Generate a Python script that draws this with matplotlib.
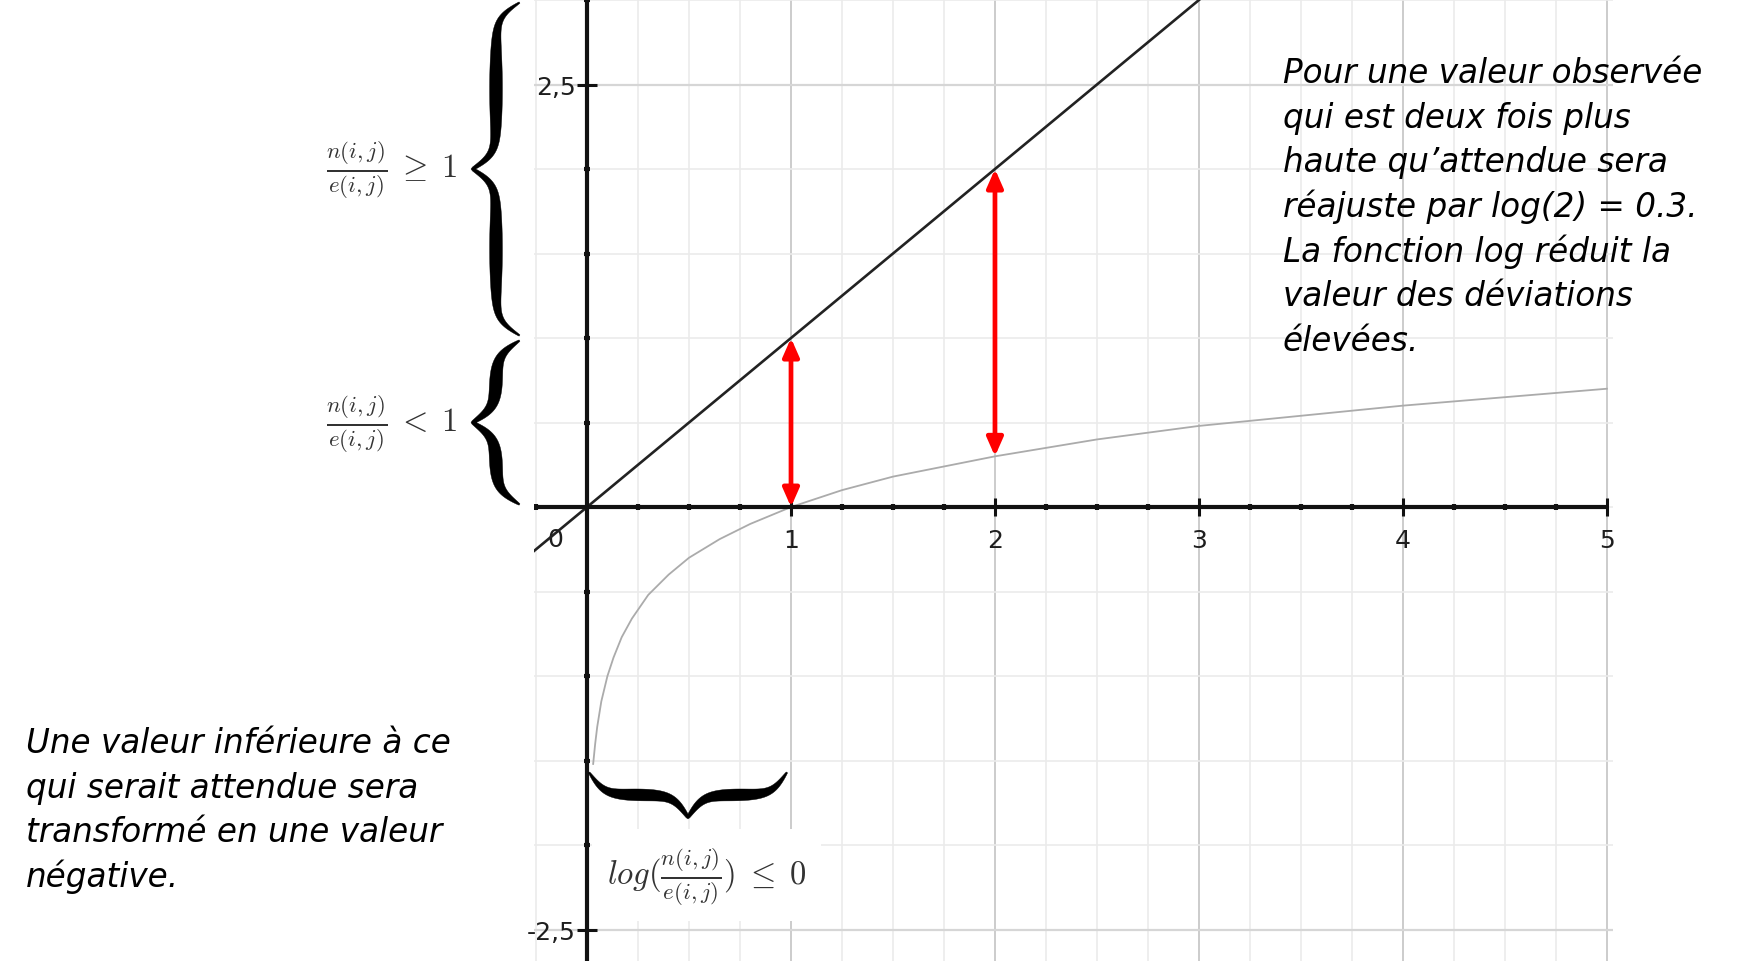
import numpy as np
import matplotlib.pyplot as plt
from matplotlib.patches import Polygon

plt.rcParams['mathtext.fontset'] = 'cm'

# ---------------- data ----------------
# identity line y = x
line_x = [-0.26, 3.01]
line_y = [-0.26, 3.01]

# grey log curve (visible part only)
log_x = [0.03, 0.04, 0.05, 0.07, 0.1, 0.13, 0.17, 0.22, 0.3,
         0.4, 0.5, 0.65, 0.8, 1.0, 1.25, 1.5, 2.0, 2.5, 3.0, 3.5, 4.0, 4.5, 5.0]
log_y = [-1.52, -1.4, -1.3, -1.15, -1.0, -0.89, -0.77, -0.66, -0.52,
         -0.4, -0.3, -0.19, -0.1, 0.0, 0.1, 0.18, 0.3, 0.4, 0.48, 0.54, 0.6, 0.65, 0.7]

# red double arrows: position, lower end, upper end
arrow_x = [1, 2]
arrow_lo = [0.0, 0.3]
arrow_hi = [1.0, 2.0]

x_tick_values = [1, 2, 3, 4, 5]
x_tick_labels = ['1', '2', '3', '4', '5']
y_tick_values = [2.5, -2.5]
y_tick_labels = ['2,5', '-2,5']

brace_ranges = [(1, 3), (0, 1)]
brace_labels = [r'$\frac{n(i,j)}{e(i,j)}\;\geq\;1$', r'$\frac{n(i,j)}{e(i,j)}\;<\;1$']
bottom_range = (0, 1)
bottom_label = r'$log(\frac{n(i,j)}{e(i,j)})\;\leq\;0$'

right_text = ['Pour une valeur observée',
              'qui est deux fois plus',
              'haute qu’attendue sera',
              'réajuste par log(2) = 0.3.',
              'La fonction log réduit la',
              'valeur des déviations',
              'élevées.']
left_text = ['Une valeur inférieure à ce',
             'qui serait attendue sera',
             'transformé en une valeur',
             'négative.']

# ---------------- figure ----------------
W, H = 1739, 962
fig = plt.figure(figsize=(W / 100, H / 100), dpi=100)
xmin, xmax = -0.26, 5.03
ymin, ymax = -2.686, 3.006
ax = fig.add_axes([534 / W, 0, 1079 / W, 1])
ax.set_xlim(xmin, xmax)
ax.set_ylim(ymin, ymax)
ax.axis('off')

# grid
for gx in np.arange(-0.25, 5.01, 0.25):
    major = abs(gx - round(gx)) < 1e-6
    ax.axvline(gx, color='#c4c4c4' if major else '#ebebeb', lw=1.2, zorder=0)
for gy in np.arange(-2.5, 3.01, 0.5):
    major = abs(abs(gy) - 2.5) < 1e-6
    ax.axhline(gy, color='#d6d6d6' if major else '#ebebeb', lw=1.6 if major else 1.2, zorder=0)

# axes
ax.plot([xmin, 5], [0, 0], color='#111111', lw=3, solid_capstyle='butt', zorder=4)
ax.axvline(0, color='#111111', lw=3, zorder=4)

small_x = [v for v in np.arange(-0.25, 5.01, 0.25) if abs(v - round(v)) > 1e-6]
ax.plot(small_x, np.zeros(len(small_x)), ls='none', marker='|', ms=5, mew=3,
        color='#111111', zorder=4)
ax.plot(x_tick_values, np.zeros(len(x_tick_values)), ls='none', marker='|', ms=13,
        mew=2.2, color='#111111', zorder=4)
small_y = [v for v in np.arange(-2.5, 3.01, 0.5) if 1e-6 < abs(v) and abs(abs(v) - 2.5) > 1e-6]
ax.plot(np.zeros(len(small_y)), small_y, ls='none', marker='_', ms=5, mew=3,
        color='#111111', zorder=4)
ax.plot(np.zeros(len(y_tick_values)), y_tick_values, ls='none', marker='_', ms=14,
        mew=2.2, color='#111111', zorder=4)

tick_font = dict(family='DejaVu Sans', fontsize=18, color='#1e1e1e')
for v, lab in zip(x_tick_values, x_tick_labels):
    ax.text(v, -0.195, lab, ha='center', va='center', **tick_font)
ax.text(-0.157, -0.19, '0', ha='center', va='center', **tick_font)
for v, lab in zip(y_tick_values, y_tick_labels):
    ax.text(-0.055, v - 0.015, lab, ha='right', va='center', **tick_font)

# curves
ax.plot(line_x, line_y, color='#222222', lw=1.9, zorder=3)
ax.plot(log_x, log_y, color='#ababab', lw=1.3, zorder=2)

for x, lo, hi in zip(arrow_x, arrow_lo, arrow_hi):
    ax.annotate('', xy=(x, hi), xytext=(x, lo),
                arrowprops=dict(arrowstyle='<|-|>,head_length=0.5,head_width=0.22',
                                color='red', lw=3.4, mutation_scale=22,
                                shrinkA=0, shrinkB=0), zorder=5)


def draw_brace(ax, p_start, p_end, depth, side, w_max, beta=0.13):
    """Curly brace drawn in pixel space, tip pointing to `side` of start->end."""
    a0 = ax.transData.transform(p_start)
    a1 = ax.transData.transform(p_end)
    vec = a1 - a0
    L = np.hypot(*vec)
    u = vec / L
    n = np.array([-u[1], u[0]]) * side
    half = L / 2
    t = np.linspace(0, half, 300)
    sig = lambda z: 1 / (1 + np.exp(-beta * z))
    b = sig(t) + sig(t - half) - 0.5
    s = t / half
    w = 1.5 + (w_max - 1.5) * np.sin(np.pi * s) ** 0.8 + 1.5 * s
    t_full = np.concatenate([t, L - t[::-1][1:]])
    b_full = np.concatenate([b, b[::-1][1:]])
    w_full = np.concatenate([w, w[::-1][1:]])
    pts = a0 + np.outer(t_full, u) + np.outer(depth * b_full, n)
    d = np.gradient(pts, axis=0)
    d /= np.hypot(d[:, 0], d[:, 1])[:, None]
    nn = np.stack([-d[:, 1], d[:, 0]], axis=1)
    left = pts + nn * w_full[:, None] / 2
    right = pts - nn * w_full[:, None] / 2
    poly = ax.transData.inverted().transform(np.vstack([left, right[::-1]]))
    ax.add_patch(Polygon(poly, closed=True, fc='black', ec='black', lw=0.3,
                         clip_on=False, zorder=6))


label_font = dict(fontsize=23.5, color='#333333', ha='center', va='center')
for (lo, hi), lab in zip(brace_ranges, brace_labels):
    draw_brace(ax, (-0.331, lo + 0.015), (-0.331, hi - 0.015), 47, 1, 12)
    ax.text(-0.955, (lo + hi) / 2, lab, clip_on=False, **label_font)

draw_brace(ax, (bottom_range[0] + 0.01, -1.57), (bottom_range[1] - 0.02, -1.57), 45, -1, 11)
ax.text(0.585, -2.18, bottom_label, zorder=6,
        bbox=dict(boxstyle='square,pad=0.45', fc='white', ec='none'), **label_font)

# explanatory texts
text_font = dict(family='DejaVu Sans', style='italic', fontsize=23.5, color='black',
                 va='baseline', ha='left')
for i, line in enumerate(right_text):
    fig.text(1283 / W, 1 - (83 + 44.7 * i) / H, line, **text_font)
for i, line in enumerate(left_text):
    fig.text(26 / W, 1 - (753 + 44.7 * i) / H, line, **text_font)

fig.savefig('out.png', dpi=100, facecolor='white')
